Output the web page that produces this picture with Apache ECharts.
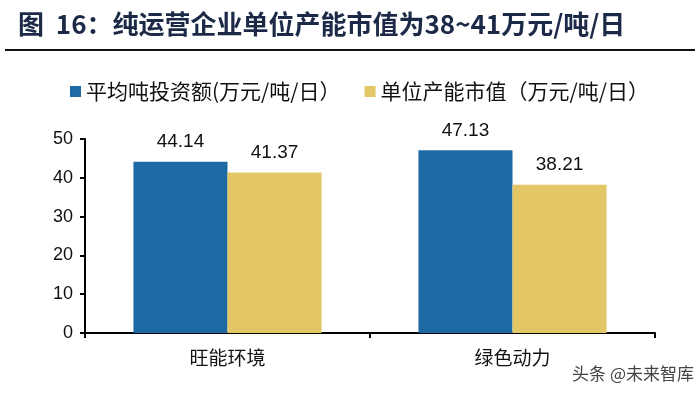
<!DOCTYPE html>
<html>
<head>
<meta charset="utf-8">
<script src="https://cdn.jsdelivr.net/npm/echarts@6/dist/echarts.min.js"></script>
<style>
  html, body { margin: 0; padding: 0; background: #fff; }
  #chart { width: 700px; height: 396px; }
</style>
</head>
<body>
<div id="chart"></div>
<script>
var titleText = '图  16：纯运营企业单位产能市值为38~41万元/吨/日'
var categories = ['旺能环境', '绿色动力']
var investName = '平均吨投资额(万元/吨/日）'
var investValues = [44.14, 47.13]
var marketName = '单位产能市值（万元/吨/日）'
var marketValues = [41.37, 38.21]
var yTicks = { min: 0, max: 50, interval: 10 }

var chart = echarts.init(document.getElementById('chart'))
var cjk = '"Noto Sans CJK SC", sans-serif'
var latin = 'Arial, "Liberation Sans", sans-serif'

var option = {
  backgroundColor: '#fff',
  animation: false,
  graphic: [
    {
      type: 'text',
      left: 18,
      top: 11,
      style: { text: titleText, fill: '#1c2a48', font: 'bold 26px ' + cjk }
    },
    {
      type: 'rect',
      shape: { x: 5, y: 49, width: 690, height: 2 },
      style: { fill: '#111' }
    },
    {
      type: 'text',
      right: 6,
      top: 365,
      style: { text: '头条 @未来智库', fill: '#444', font: '17px ' + cjk }
    }
  ],
  legend: {
    top: 76,
    left: 65,
    itemWidth: 11,
    itemHeight: 11,
    itemGap: 24,
    icon: 'rect',
    textStyle: { fontFamily: cjk, fontSize: 21, color: '#111', padding: [0, 0, 0, 0] },
    data: [investName, marketName]
  },
  grid: { left: 85, right: 45, top: 139, bottom: 63 },
  xAxis: {
    type: 'category',
    data: categories,
    axisLine: { lineStyle: { color: '#000', width: 2 } },
    axisTick: { show: true, length: 5, lineStyle: { color: '#000', width: 2 } },
    axisLabel: { fontFamily: cjk, fontSize: 19, color: '#111', margin: 15 }
  },
  yAxis: {
    type: 'value',
    min: yTicks.min,
    max: yTicks.max,
    interval: yTicks.interval,
    splitLine: { show: false },
    axisLine: { show: true, lineStyle: { color: '#000', width: 2 } },
    axisTick: { show: true, length: 5, lineStyle: { color: '#000', width: 2 } },
    axisLabel: { fontFamily: latin, fontSize: 18, color: '#111', margin: 12 }
  },
  series: [
    {
      name: investName,
      type: 'bar',
      data: investValues,
      barWidth: '33%',
      barGap: '0%',
      itemStyle: { color: '#1d69a3' },
      label: { show: true, position: 'top', distance: 10, fontFamily: latin, fontSize: 19, color: '#111' }
    },
    {
      name: marketName,
      type: 'bar',
      data: marketValues,
      barWidth: '33%',
      barGap: '0%',
      itemStyle: { color: '#e3c766' },
      label: { show: true, position: 'top', distance: 10, fontFamily: latin, fontSize: 19, color: '#111' }
    }
  ]
}
chart.setOption(option)
</script>
</body>
</html>
